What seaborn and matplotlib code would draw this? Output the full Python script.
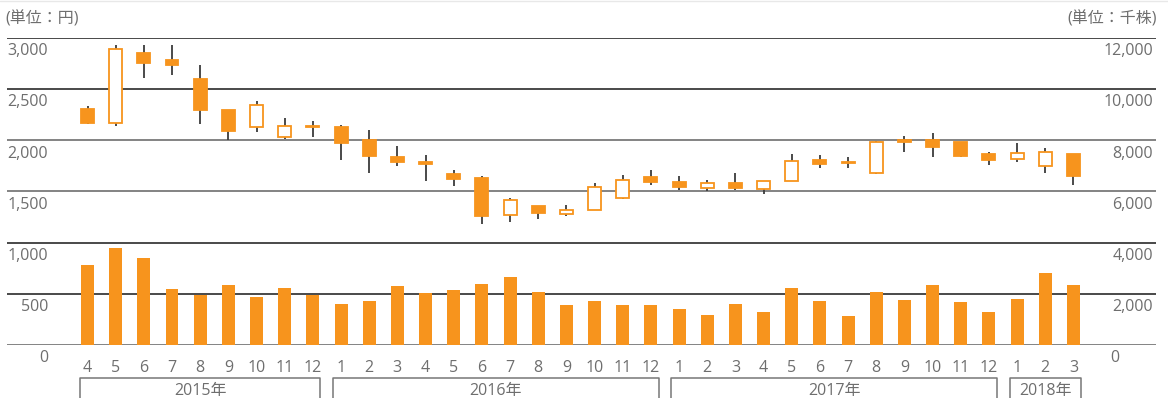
import numpy as np
import matplotlib.pyplot as plt
import matplotlib.transforms as mtransforms
import seaborn as sns
from matplotlib.lines import Line2D

# --- Data (monthly candles Apr 2015 - Mar 2018) ---
months = ["4", "5", "6", "7", "8", "9", "10", "11", "12",
          "1", "2", "3", "4", "5", "6", "7", "8", "9", "10", "11", "12",
          "1", "2", "3", "4", "5", "6", "7", "8", "9", "10", "11", "12",
          "1", "2", "3"]
opens = [2301, 2162, 2844, 2776, 2591, 2290, 2129, 2029, 2136,
         2123, 2000, 1830, 1785, 1671, 1626, 1265, 1353, 1278, 1320, 1431, 1635,
         1587, 1535, 1577, 1525, 1603, 1804, 1788, 1678, 1996, 2000, 1977, 1866,
         1817, 1749, 1866]
closes = [2165, 2890, 2750, 2734, 2288, 2085, 2344, 2133, 2128,
          1967, 1843, 1788, 1765, 1619, 1259, 1418, 1285, 1320, 1544, 1613, 1590,
          1538, 1577, 1531, 1603, 1798, 1765, 1775, 1977, 1985, 1934, 1843, 1808,
          1869, 1879, 1645]
highs = [2327, 2929, 2922, 2922, 2727, 2290, 2376, 2217, 2185,
         2142, 2094, 1938, 1850, 1710, 1645, 1431, 1353, 1366, 1583, 1655, 1704,
         1648, 1606, 1681, 1603, 1860, 1856, 1837, 1987, 2042, 2064, 1977, 1879,
         1970, 1925, 1866]
lows = [2155, 2133, 2604, 2636, 2158, 2003, 2077, 2009, 2025,
        1801, 1678, 1749, 1600, 1551, 1184, 1203, 1229, 1262, 1320, 1421, 1564,
        1509, 1499, 1509, 1476, 1603, 1726, 1726, 1668, 1879, 1837, 1834, 1756,
        1788, 1678, 1564]
volume = [3117, 3779, 3390, 2182, 1948, 2338, 1870, 2221, 1948,
          1597, 1714, 2299, 2026, 2143, 2377, 2649, 2065, 1558, 1714, 1558, 1558,
          1403, 1169, 1597, 1286, 2221, 1714, 1130, 2065, 1753, 2338, 1675, 1286,
          1792, 2805, 2338]
years = ["2015年", "2016年", "2017年", "2018年"]
year_first = [0, 9, 21, 33]
year_last = [8, 20, 32, 35]
price_ticks = [0, 500, 1000, 1500, 2000, 2500, 3000]
price_labels = ["0", "500", "1,000", "1,500", "2,000", "2,500", "3,000"]
volume_labels = ["0", "2,000", "4,000", "6,000", "8,000", "10,000", "12,000"]

ORANGE = "#F7941D"
GRAY_TXT = "#6e6e6e"

sns.set_theme(style="white")
plt.rcParams["font.family"] = ["Open Sans", "Noto Sans CJK JP", "DejaVu Sans"]

W, H = 1168, 398
fig = plt.figure(figsize=(W / 100, H / 100), dpi=100)
ax = fig.add_axes([7 / W, 1 - 345 / H, 1149 / W, (345 - 37.5) / H])
ax2 = ax.twinx()

# --- Volume bars (right axis) ---
x = np.arange(len(months))
sns.barplot(x=x, y=volume, ax=ax2, color=ORANGE, saturation=1, width=0.46,
            edgecolor="none")
ax2.set_ylim(0, 12000)

# --- Grid ---
for i, t in enumerate(price_ticks):
    c = "#3a3a3a" if t in (500, 1000, 2500, 3000) else "#7a7a7a"
    ax.axhline(t, color=c, lw=1.3, zorder=0)

# --- Candles (left axis) ---
for i in x:
    o, c, h, l = opens[i], closes[i], highs[i], lows[i]
    ax.vlines(i, l, h, color="#3c3c3c", lw=1.3, zorder=2)
    up = c >= o
    ax.bar(i, abs(c - o) if abs(c - o) > 0 else 8, bottom=min(o, c), width=0.46,
           facecolor="white" if up else ORANGE, edgecolor=ORANGE, lw=1.3, zorder=3)

ax.set_ylim(0, 3000)
xl = (-(87.5 - 7) / 28.17, (1156 - 87.5) / 28.17)
ax.set_xlim(*xl)
ax2.set_xlim(*xl)

for a in (ax, ax2):
    sns.despine(ax=a, left=True, right=True, top=True, bottom=True)
    a.set_xticks([])
    a.set_yticks([])
    a.set_xlabel("")
    a.set_ylabel("")

# --- Tick labels drawn under each gridline ---
off = 13.5 * 3000 / 307.5
ytr = ax.get_yaxis_transform()
for t, lab, vlab in zip(price_ticks, price_labels, volume_labels):
    ax.text((48 - 7) / 1149, t - off, lab, transform=ytr, ha="right", va="center",
            fontsize=11.5, color=GRAY_TXT, clip_on=False)
    if vlab == "0":
        ax.text((1110 - 7) / 1149, t - off, vlab, transform=ytr, ha="left",
                va="center", fontsize=11.5, color=GRAY_TXT, clip_on=False)
    else:
        ax.text((1153 - 7) / 1149, t - off, vlab, transform=ytr, ha="right",
                va="center", fontsize=11.5, color=GRAY_TXT, clip_on=False)

# --- Month labels & year brackets ---
btr = mtransforms.blended_transform_factory(ax.transData, fig.transFigure)
for i, m in enumerate(months):
    ax.text(i, 1 - 368.5 / H, m, transform=btr, ha="center", va="center",
            fontsize=11.5, color=GRAY_TXT, clip_on=False)

yb_top = 1 - 378 / H
for yr, s, e in zip(years, year_first, year_last):
    x0, x1 = s - 0.27, e + 0.27
    fig.add_artist(Line2D([x0, x0, x1, x1], [-0.05, yb_top, yb_top, -0.05],
                          transform=btr, color="#777777", lw=1.1))
    ax.text((x0 + x1) / 2, 1 - 390.5 / H, yr, transform=btr, ha="center",
            va="center", fontsize=11.5, color=GRAY_TXT, clip_on=False)

# --- Units ---
fig.text(5 / W, 1 - 19.5 / H, "(単位：円)", ha="left", va="center",
         fontsize=11.5, color=GRAY_TXT)
fig.text(1157 / W, 1 - 19.5 / H, "(単位：千株)", ha="right", va="center",
         fontsize=11.5, color=GRAY_TXT)
fig.add_artist(Line2D([0, 1], [1 - 0.5 / H] * 2, transform=fig.transFigure,
                      color="#e8e8e8", lw=1))

fig.savefig("out.png", dpi=100)
